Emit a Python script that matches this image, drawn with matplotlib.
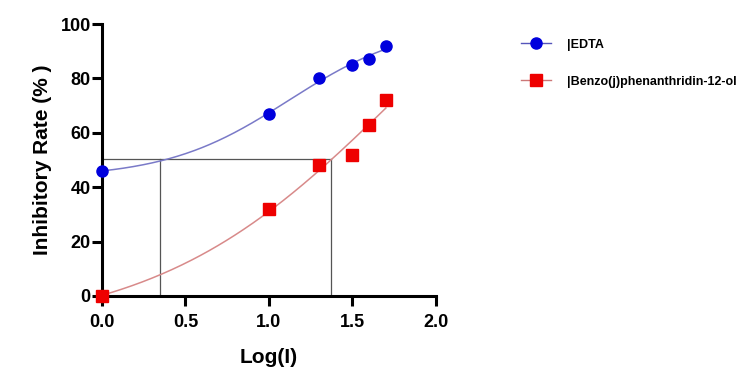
import numpy as np
import matplotlib.pyplot as plt
from matplotlib.lines import Line2D

plt.rcParams['font.family'] = ['Liberation Sans', 'DejaVu Sans']

# data
log_i = [0.0, 1.0, 1.3, 1.5, 1.6, 1.7]
edta = [46, 67, 80, 85, 87, 92]
benzo = [0, 32, 48, 52, 63, 72]
series_names = ['EDTA', 'Benzo(j)phenanthridin-12-ol']
ic50_level = 50.5
ic50_x = [0.35, 1.37]
x_ticks = [0.0, 0.5, 1.0, 1.5, 2.0]
y_ticks = [0, 20, 40, 60, 80, 100]


def fit_4pl(x, y):
    """log(inhibitor) vs response, grid search over logIC50 / hill, linear for bottom/top"""
    x = np.asarray(x, float)
    y = np.asarray(y, float)
    best = None
    for c in np.linspace(-1, 4, 251):
        for h in np.linspace(0.2, 3, 141):
            s = 1 / (1 + 10 ** ((c - x) * h))
            A = np.column_stack([np.ones_like(s), s])
            coef, *_ = np.linalg.lstsq(A, y, rcond=None)
            err = np.sum((A @ coef - y) ** 2)
            if coef[1] > 0 and coef[1] + coef[0] <= 160 and (best is None or err < best[0]):
                best = (err, c, h, coef)
    _, c, h, coef = best
    return lambda t: coef[0] + coef[1] / (1 + 10 ** ((c - t) * h))


fig = plt.figure(figsize=(7.44, 3.76), dpi=100)
ax = fig.add_axes([0.137, 0.213, 0.449, 0.723])

xx = np.linspace(0, 1.7, 200)
for y, c in [(edta, '#7a7ac8'), (benzo, '#d88a8a')]:
    f = fit_4pl(log_i, y)
    ax.plot(xx, f(xx), color=c, lw=1.1, zorder=2)

# IC50 guide lines
ax.plot([0, ic50_x[1]], [ic50_level, ic50_level], color='#555555', lw=0.9, zorder=1)
for xv in ic50_x:
    ax.plot([xv, xv], [0, ic50_level], color='#555555', lw=0.9, zorder=1)

ax.plot(log_i, edta, 'o', color='#0000dd', ms=8, ls='none', clip_on=False, zorder=4)
ax.plot(log_i, benzo, 's', color='#ee0000', ms=8, ls='none', clip_on=False, zorder=4)

ax.set_xlim(0, 2.0)
ax.set_ylim(0, 100)
ax.set_xticks(x_ticks)
ax.set_yticks(y_ticks)
ax.set_xticklabels([f'{v:.1f}' for v in x_ticks])
for s in ['top', 'right']:
    ax.spines[s].set_visible(False)
for s in ['left', 'bottom']:
    ax.spines[s].set_linewidth(2.2)
ax.tick_params(width=2.2, length=7, labelsize=13)
ax.tick_params(axis='x', pad=6)
ax.tick_params(axis='y', pad=1)
for lab in ax.get_xticklabels() + ax.get_yticklabels():
    lab.set_fontweight('bold')
ax.set_xlabel('Log(I)', fontsize=15, fontweight='bold', labelpad=12)
ax.set_ylabel('Inhibitory Rate (% )', fontsize=15, fontweight='bold', labelpad=6)

# legend
handles = [
    Line2D([], [], color='#5555bb', lw=1, marker='o', ms=8, mfc='#0000dd', mec='#0000dd'),
    Line2D([], [], color='#cc7777', lw=1, marker='s', ms=8, mfc='#ee0000', mec='#ee0000'),
]
labels = ['|' + n for n in series_names]
leg = fig.legend(handles, labels, loc='upper left', bbox_to_anchor=(0.685, 0.927),
                 frameon=False, fontsize=9, handlelength=2.4, labelspacing=2.0,
                 handletextpad=1.3)
for t in leg.get_texts():
    t.set_fontweight('bold')

fig.savefig('out.png', dpi=100)
